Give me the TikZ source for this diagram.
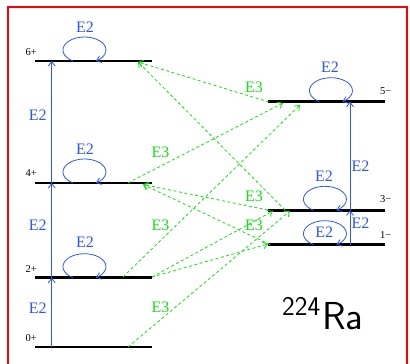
\documentclass[tikz,border=0pt]{standalone}
\usepackage{fontspec}
\setmainfont{Liberation Serif}
\newfontfamily\serfont{Liberation Serif}
\usetikzlibrary{arrows.meta}
\definecolor{eblue}{RGB}{45,85,255}
\definecolor{egreen}{RGB}{20,225,20}
\definecolor{fred}{RGB}{255,0,0}
\newcommand\mkloop[3]{%
  \coordinate (#1s) at ({#2-11.5},#3);
  \draw[etwo] (#1s) arc[start angle=237.8,end angle=-57.8,x radius=21.5,y radius=13];}
\begin{document}
\begin{tikzpicture}[x=1pt,y=1pt,
  level/.style={line width=2.6pt,line cap=butt},
  etwo/.style={eblue,line width=0.8pt,-{Straight Barb[length=4.5pt,width=7pt]}},
  ethree/.style={egreen,line width=0.8pt,dash pattern=on 3pt off 2.5pt,-{Straight Barb[length=4.5pt,width=7pt]}},
  lbl/.style={font=\serfont\fontsize{10.5}{10.5}\selectfont,inner sep=0pt},
  etwol/.style={text=eblue,font=\serfont\fontsize{16}{16}\selectfont,inner sep=0pt},
  ethreel/.style={text=egreen,font=\serfont\fontsize{16}{16}\selectfont,inner sep=0pt}]
\useasboundingbox (0,0) rectangle (410,364);
\clip (0,0) rectangle (410,364);
% frame
\draw[fred,line width=2pt] (8,-10) -- (8,357.3) -- (407,357.3) -- (407,-10);
% levels
\draw[level] (35,17) -- (152,17);
\draw[level] (35,86.3) -- (152,86.3);
\draw[level] (35,181) -- (152,181);
\draw[level] (35,303) -- (152,303);
\draw[level] (268,119.3) -- (385,119.3);
\draw[level] (268,153.7) -- (385,153.7);
\draw[level] (268,262.3) -- (385,262.3);
% level labels
\node[lbl,anchor=east] (n0) at (37,26.3) {0+};
\node[lbl,anchor=east] (n2) at (37,94.7) {2+};
\node[lbl,anchor=east] (n4) at (37,190.7) {4+};
\node[lbl,anchor=east] (n6) at (37,312) {6+};
\node[lbl,anchor=west] (n5m) at (380,273) {5−};
\node[lbl,anchor=west] (n3m) at (380,164.7) {3−};
\node[lbl,anchor=west] (n1m) at (380,128.7) {1−};
% E2 verticals
\coordinate (v0) at (51.7,17);
\coordinate (v2) at (51.7,86.3);
\coordinate (v4) at (51.7,181);
\coordinate (v6) at (51.7,303);
\coordinate (w1) at (350,119.3);
\coordinate (w3) at (350,153.7);
\coordinate (w5) at (350,262.3);
\draw[etwo] (v0) -- (v2);
\draw[etwo] (v2) -- (v4);
\draw[etwo] (v4) -- (v6);
\draw[etwo] (w1) -- (w3);
\draw[etwo] (w3) -- (w5);
\node[etwol] (t02) at (37.7,56) {E2};
\node[etwol] (t24) at (37.7,139) {E2};
\node[etwol] (t46) at (37.7,249) {E2};
\node[etwol] (t13) at (360.5,141.2) {E2};
\node[etwol] (t35) at (360.5,197.3) {E2};
% self loops
\mkloop{lp6}{84.5}{303}
\mkloop{lp4}{84.5}{181}
\mkloop{lp2}{84.5}{86.3}
\mkloop{lp5}{331}{262.3}
\mkloop{lp3}{325}{153.7}
\mkloop{lp1}{325}{119.3}
\node[etwol] (s6) at (85,337) {E2};
\node[etwol] (s4) at (85,215) {E2};
\node[etwol] (s2) at (85,121.3) {E2};
\node[etwol] (s5) at (330,296.3) {E2};
\node[etwol] (s3) at (324,188) {E2};
\node[etwol] (s1) at (324.3,132) {E2};
% E3 endpoints
\coordinate (a6) at (138,302);
\coordinate (a5s) at (269,262);
\coordinate (a3s) at (285,154);
\coordinate (b4s) at (128,181);
\coordinate (b5e) at (283,261);
\coordinate (b2s) at (123,87);
\coordinate (b5f) at (300,259);
\coordinate (c3s) at (268,154);
\coordinate (c1s) at (270,119.5);
\coordinate (c4) at (143,179.5);
\coordinate (d0s) at (128,17);
\coordinate (d3e) at (290,153);
\coordinate (d2s) at (152,87);
\coordinate (d3f) at (273,153);
\coordinate (d1e) at (268,120);
\draw[ethree] (a5s) -- (a6);
\draw[ethree] (a3s) -- (a6);
\draw[ethree] (b4s) -- (b5e);
\draw[ethree] (b2s) -- (b5f);
\draw[ethree] (c3s) -- (c4);
\draw[ethree] (c1s) -- (c4);
\draw[ethree] (d0s) -- (d3e);
\draw[ethree] (d2s) -- (d3f);
\draw[ethree] (d2s) -- (d1e);
\node[ethreel] (e1) at (254,276.5) {E3};
\node[ethreel] (e2) at (160.5,212.2) {E3};
\node[ethreel] (e3) at (254,167.5) {E3};
\node[ethreel] (e4) at (254,139) {E3};
\node[ethreel] (e5) at (160.5,139) {E3};
\node[ethreel] (e6) at (160.5,56.5) {E3};
% nucleus
\node[inner sep=0pt,anchor=base west,font=\sffamily\fontsize{39}{39}\selectfont] (ra) at (282,34.3)
  {{\fontsize{27}{27}\selectfont\raisebox{14pt}{224}}\kern2pt Ra};
\end{tikzpicture}
\end{document}
